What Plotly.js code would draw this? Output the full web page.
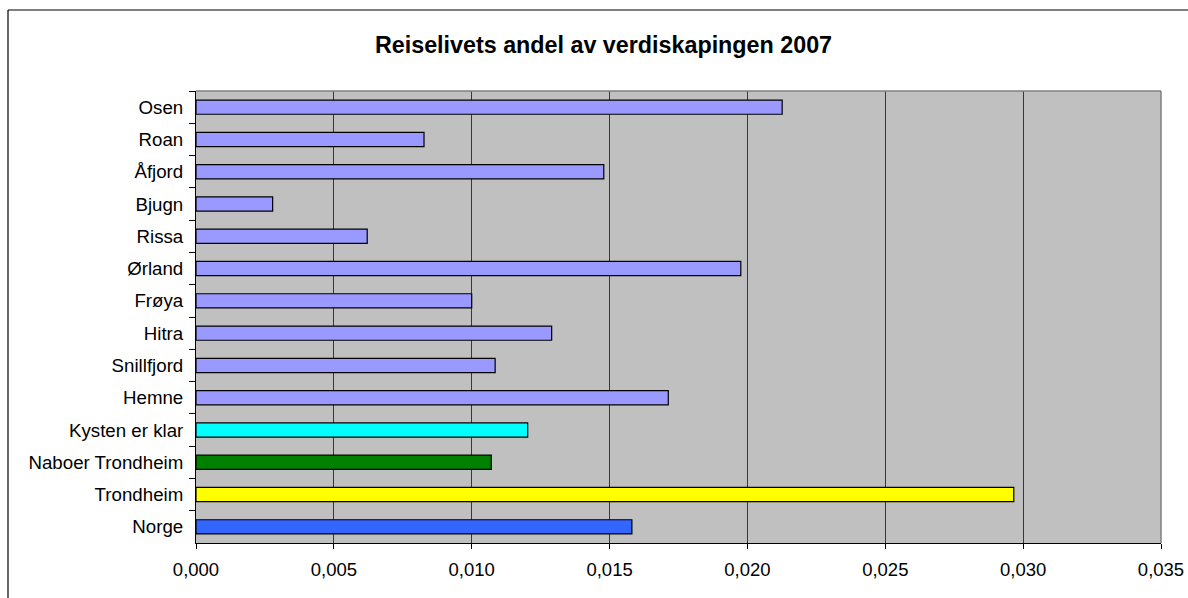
<!DOCTYPE html>
<html>
<head>
<meta charset="utf-8">
<script src="https://cdn.plot.ly/plotly-3.0.1.min.js"></script>
<style>
  html, body { margin: 0; padding: 0; background: #ffffff; }
  #chart { width: 1188px; height: 598px; }
</style>
</head>
<body>
<div id="chart"></div>
<script>
const categories = ["Osen", "Roan", "Åfjord", "Bjugn", "Rissa", "Ørland", "Frøya", "Hitra",
  "Snillfjord", "Hemne", "Kysten er klar", "Naboer Trondheim", "Trondheim", "Norge"];
const values = [0.02126, 0.00827, 0.01479, 0.00278, 0.00621, 0.01976, 0.01000, 0.01290,
  0.01085, 0.01713, 0.01203, 0.01071, 0.02966, 0.01581];
const barColors = ["#9999FF", "#9999FF", "#9999FF", "#9999FF", "#9999FF", "#9999FF", "#9999FF",
  "#9999FF", "#9999FF", "#9999FF", "#00FFFF", "#008000", "#FFFF00", "#3366FF"];
const xTicks = [0, 0.005, 0.010, 0.015, 0.020, 0.025, 0.030, 0.035];
const titleText = "Reiselivets andel av verdiskapingen 2007";

const trace = {
  type: "bar",
  orientation: "h",
  y: categories,
  x: values,
  marker: { color: barColors, line: { color: "#000000", width: 1.2 } },
  hoverinfo: "x+y"
};

const font = "Liberation Sans, Arial, sans-serif";
const layout = {
  width: 1188, height: 598,
  margin: { l: 196, r: 27, t: 91, b: 55, pad: 0 },
  paper_bgcolor: "#ffffff",
  plot_bgcolor: "#C0C0C0",
  separators: ", ",
  showlegend: false,
  bargap: 0.56,
  font: { family: font, size: 18.5, color: "#000000" },
  title: {
    text: "<b>" + titleText + "</b>",
    font: { family: font, size: 23.3, color: "#000000" },
    x: 603.5 / 1188, xref: "container", xanchor: "center",
    y: 1 - 45 / 598, yref: "container", yanchor: "middle"
  },
  xaxis: {
    range: [0, 0.035],
    tickvals: xTicks,
    tickformat: ".3f",
    showgrid: true, gridcolor: "#383838", gridwidth: 1,
    zeroline: false,
    showline: true, linecolor: "#000000", linewidth: 1,
    ticks: "outside", ticklen: 5, tickcolor: "#000000",
    ticklabelstandoff: 5,
    tickfont: { family: font, size: 18.5, color: "#000000" },
    fixedrange: true
  },
  yaxis: {
    type: "category",
    autorange: "reversed",
    tickson: "boundaries",
    showgrid: false,
    showline: true, linecolor: "#000000", linewidth: 1,
    ticks: "outside", ticklen: 6, tickcolor: "#000000",
    ticklabelstandoff: 8,
    tickfont: { family: font, size: 18.7, color: "#000000" },
    fixedrange: true
  },
  shapes: [
    { type: "line", xref: "paper", yref: "paper", x0: 0, x1: 1, y0: 1, y1: 1,
      line: { color: "#808080", width: 1.5 }, layer: "above" },
    { type: "line", xref: "paper", yref: "paper", x0: 1, x1: 1, y0: 0, y1: 1,
      line: { color: "#808080", width: 1.5 }, layer: "above" },
    { type: "line", xref: "paper", yref: "paper",
      x0: (8 - 196) / 965, x1: (1190 - 196) / 965, y0: (543 - 10) / 452, y1: (543 - 10) / 452,
      line: { color: "#000000", width: 1.2 }, layer: "above" },
    { type: "line", xref: "paper", yref: "paper",
      x0: (8 - 196) / 965, x1: (8 - 196) / 965, y0: (543 - 10) / 452, y1: (543 - 600) / 452,
      line: { color: "#000000", width: 1.2 }, layer: "above" }
  ]
};

Plotly.newPlot("chart", [trace], layout, { displayModeBar: false, staticPlot: true });
</script>
</body>
</html>
